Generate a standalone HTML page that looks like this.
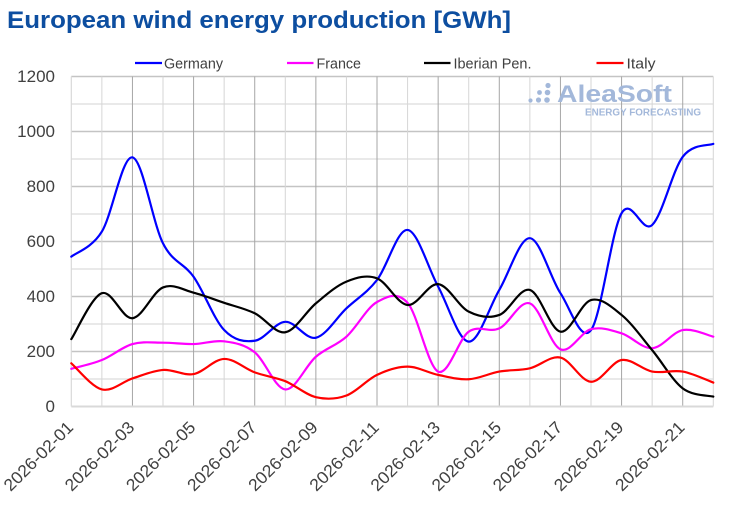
<!DOCTYPE html>
<html>
<head>
<meta charset="utf-8">
<style>
html,body{margin:0;padding:0;background:#fff;}
svg{display:block;}
text{font-family:"Liberation Sans",Arial,sans-serif;}
</style>
</head>
<body>
<svg id="c" width="730" height="509" viewBox="0 0 730 509" xmlns="http://www.w3.org/2000/svg">
<rect width="730" height="509" fill="#fff"/>
<text x="7" y="28" font-size="24" font-weight="bold" fill="#0d4ea0" textLength="504" lengthAdjust="spacingAndGlyphs">European wind energy production [GWh]</text>
<g id="grid"></g>
<!-- watermark -->
<g fill="#a3b8da">
<circle cx="548" cy="85.5" r="2.6"/>
<circle cx="547.5" cy="92.5" r="2.8"/>
<circle cx="539.5" cy="92.5" r="2.4"/>
<circle cx="547" cy="100" r="2.8"/>
<circle cx="538.5" cy="100" r="2.6"/>
<circle cx="530.5" cy="100.5" r="2.1"/>
<text x="557" y="102" font-size="24" font-weight="bold" textLength="115" lengthAdjust="spacingAndGlyphs">AleaSoft</text>
<text x="585" y="115.5" font-size="10" font-weight="bold" textLength="116" lengthAdjust="spacingAndGlyphs">ENERGY FORECASTING</text>
</g>
<g id="series"></g>
<!-- legend -->
<g font-size="14.5" fill="#404040">
<line x1="135" y1="63" x2="162" y2="63" stroke="#0000ff" stroke-width="2.2"/>
<text x="164" y="68.5" textLength="59" lengthAdjust="spacingAndGlyphs">Germany</text>
<line x1="287" y1="63" x2="313.5" y2="63" stroke="#ff00ff" stroke-width="2.2"/>
<text x="316.5" y="68.5" textLength="44.5" lengthAdjust="spacingAndGlyphs">France</text>
<line x1="424" y1="63" x2="450.5" y2="63" stroke="#000000" stroke-width="2.2"/>
<text x="453.5" y="68.5" textLength="78" lengthAdjust="spacingAndGlyphs">Iberian Pen.</text>
<line x1="596.5" y1="63" x2="623.5" y2="63" stroke="#ff0000" stroke-width="2.2"/>
<text x="626.5" y="68.5" textLength="29" lengthAdjust="spacingAndGlyphs">Italy</text>
</g>
<g id="labels" font-size="17" fill="#404040"></g>
</svg>
<script>
(function(){
var NS="http://www.w3.org/2000/svg";
var X0=71.3, DX=30.571, Y0=406.5, K=0.275;
function el(tag,attrs,parent,txt){var e=document.createElementNS(NS,tag);for(var k in attrs)e.setAttribute(k,attrs[k]);if(txt!==undefined)e.textContent=txt;parent.appendChild(e);return e;}
var grid=document.getElementById('grid');
// horizontal gridlines
for(var k=1;k<=12;k++){
  var y=Y0-k*100*K;
  var major=(k%2===0);
  el('line',{x1:X0,x2:X0+21*DX,y1:y,y2:y,stroke:major?'#c4c4c4':'#e2e2e2','stroke-width':major?1.6:1.4},grid);
}
// vertical gridlines
for(var i=1;i<=21;i++){
  var x=X0+i*DX;
  var dark=(i%2===0);
  el('line',{x1:x,x2:x,y1:Y0-1200*K,y2:Y0,stroke:dark?'#a6a6a6':'#d6d6d6','stroke-width':1},grid);
}
// axes
el('line',{x1:X0,x2:X0,y1:Y0-1200*K,y2:Y0,stroke:'#d9d9d9','stroke-width':1.2},grid);
el('line',{x1:X0,x2:X0+21*DX,y1:Y0,y2:Y0,stroke:'#d9d9d9','stroke-width':2},grid);

var labels=document.getElementById('labels');
for(var k=0;k<=6;k++){
  var v=k*200;
  el('text',{x:55,y:Y0-v*K+5.5,'text-anchor':'end'},labels,String(v));
}
for(var i=0;i<=20;i+=2){
  var x=X0+i*DX+3, y=428.5;
  var d=i+1; var ds=(d<10?'0':'')+d;
  el('text',{x:x,y:y,'text-anchor':'end',transform:'rotate(-45 '+x+' '+y+')',textLength:90,lengthAdjust:'spacingAndGlyphs'},labels,'2026-02-'+ds);
}

var data=[
 ['#0000ff',[545,636,906,593,472,278,239,308,250,357,460,642,436,236,424,612,412,278,703,660,908,955]],
 ['#ff00ff',[137,169,227,232,227,237,197,62,181,254,380,377,127,272,284,375,208,281,266,212,278,254]],
 ['#000000',[245,412,321,433,414,377,339,270,375,454,466,369,445,345,333,424,272,387,333,205,66,36]],
 ['#ff0000',[157,62,102,133,118,173,124,92,34,40,115,145,115,99,127,139,178,90,169,127,127,87]]
];
var sg=document.getElementById('series');
data.forEach(function(s){
  var p=s[1].map(function(v,i){return [X0+i*DX,Y0-v*K];});
  var str='M'+p[0][0].toFixed(2)+','+p[0][1].toFixed(2);
  for(var i=0;i<p.length-1;i++){
    var p0=p[i-1]||p[i],p1=p[i],p2=p[i+1],p3=p[i+2]||p[i+1];
    var c1=[p1[0]+(p2[0]-p0[0])/6,p1[1]+(p2[1]-p0[1])/6];
    var c2=[p2[0]-(p3[0]-p1[0])/6,p2[1]-(p3[1]-p1[1])/6];
    str+='C'+c1[0].toFixed(2)+','+c1[1].toFixed(2)+' '+c2[0].toFixed(2)+','+c2[1].toFixed(2)+' '+p2[0].toFixed(2)+','+p2[1].toFixed(2);
  }
  el('path',{d:str,fill:'none',stroke:s[0],'stroke-width':2.2,'stroke-linejoin':'round','stroke-linecap':'round'},sg);
});
})();
</script>
</body>
</html>
